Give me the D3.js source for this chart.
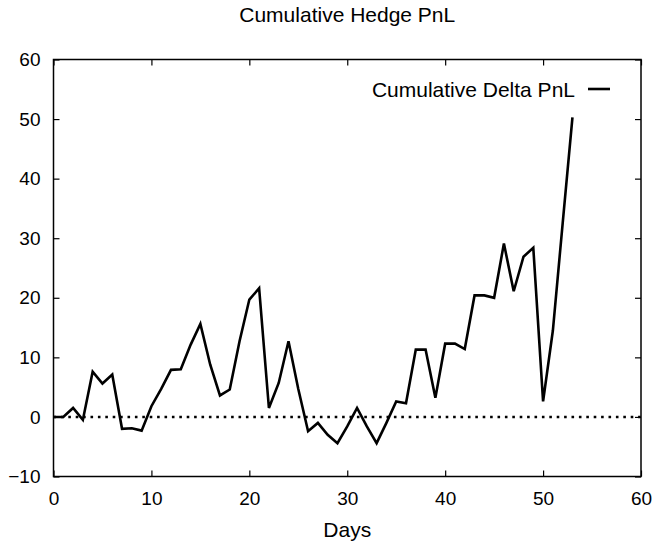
<!DOCTYPE html>
<html>
<head>
<meta charset="utf-8">
<script src="https://cdn.jsdelivr.net/npm/d3@7"></script>
<style>
  html, body { margin: 0; padding: 0; background: #fff; }
  svg { display: block; font-family: "Liberation Sans", Arial, Helvetica, sans-serif; }
</style>
</head>
<body>
<svg id="chart" width="652" height="541"></svg>
<script>
const chartTitle = "Cumulative Hedge PnL";
const xAxisLabel = "Days";
const seriesName = "Cumulative Delta PnL";
const days = d3.range(0, 54);
const pnl = [
  0.0, 0.0, 1.5, -0.5, 7.6, 5.6, 7.1, -2.0, -1.9, -2.3,
  1.8, 4.7, 7.9, 8.0, 12.1, 15.6, 8.8, 3.6, 4.6, 12.7,
  19.7, 21.6, 1.5, 5.7, 12.7, 4.7, -2.4, -1.0, -3.0, -4.4,
  -1.6, 1.5, -1.6, -4.4, -1.0, 2.6, 2.3, 11.3, 11.3, 3.2,
  12.3, 12.3, 11.4, 20.4, 20.4, 20.0, 29.1, 21.1, 26.9, 28.4,
  2.6, 14.5, 32.5, 50.3
];
const xTicks = [0, 10, 20, 30, 40, 50, 60];
const yTicks = [-10, 0, 10, 20, 30, 40, 50, 60];

const svg = d3.select("#chart");
const m = { left: 53.5, right: 641, top: 59.5, bottom: 476.5 };

const x = d3.scaleLinear().domain([0, 60]).range([m.left, m.right]);
const y = d3.scaleLinear().domain([-10, 60]).range([m.bottom, m.top]);

const fmt = d3.format("");

// zero dotted line
svg.append("line")
  .attr("x1", x(0)).attr("x2", x(60))
  .attr("y1", y(0)).attr("y2", y(0))
  .attr("stroke", "#000").attr("stroke-width", 2.6)
  .attr("stroke-dasharray", "2.6,4.8");

// axes
function styleAxis(g) {
  g.select(".domain").remove();
  g.selectAll(".tick line").attr("stroke", "#000").attr("stroke-width", 1.2);
  g.selectAll("text").attr("fill", "#000").style("font-size", "19px");
}
svg.append("g").attr("transform", `translate(0,${m.bottom})`)
  .call(d3.axisBottom(x).tickValues(xTicks).tickFormat(fmt).tickSizeInner(-6).tickSizeOuter(0).tickPadding(15))
  .call(styleAxis);
svg.append("g").attr("transform", `translate(0,${m.top})`)
  .call(d3.axisTop(x).tickValues(xTicks).tickFormat("").tickSizeInner(-6).tickSizeOuter(0))
  .call(styleAxis);
svg.append("g").attr("transform", `translate(${m.left},0)`)
  .call(d3.axisLeft(y).tickValues(yTicks).tickFormat(fmt).tickSizeInner(-6).tickSizeOuter(0).tickPadding(13))
  .call(styleAxis);
svg.append("g").attr("transform", `translate(${m.right},0)`)
  .call(d3.axisRight(y).tickValues(yTicks).tickFormat("").tickSizeInner(-6).tickSizeOuter(0))
  .call(styleAxis);

// frame
svg.append("rect")
  .attr("x", m.left).attr("y", m.top)
  .attr("width", m.right - m.left).attr("height", m.bottom - m.top)
  .attr("fill", "none").attr("stroke", "#000").attr("stroke-width", 1.5);

// series line
const line = d3.line().x((d, i) => x(days[i])).y(d => y(d));
svg.append("path")
  .datum(pnl)
  .attr("d", line)
  .attr("fill", "none")
  .attr("stroke", "#000")
  .attr("stroke-width", 2.6)
  .attr("stroke-linejoin", "miter");

// legend
svg.append("text")
  .attr("x", 575).attr("y", 96.5)
  .attr("text-anchor", "end")
  .style("font-size", "21px")
  .text(seriesName);
svg.append("line")
  .attr("x1", 588).attr("x2", 610)
  .attr("y1", 89).attr("y2", 89)
  .attr("stroke", "#000").attr("stroke-width", 2.6);

// title
svg.append("text")
  .attr("x", (m.left + m.right) / 2).attr("y", 22)
  .attr("text-anchor", "middle")
  .style("font-size", "21px")
  .text(chartTitle);

// x axis label
svg.append("text")
  .attr("x", (m.left + m.right) / 2).attr("y", 537)
  .attr("text-anchor", "middle")
  .style("font-size", "21px")
  .text(xAxisLabel);
</script>
</body>
</html>
